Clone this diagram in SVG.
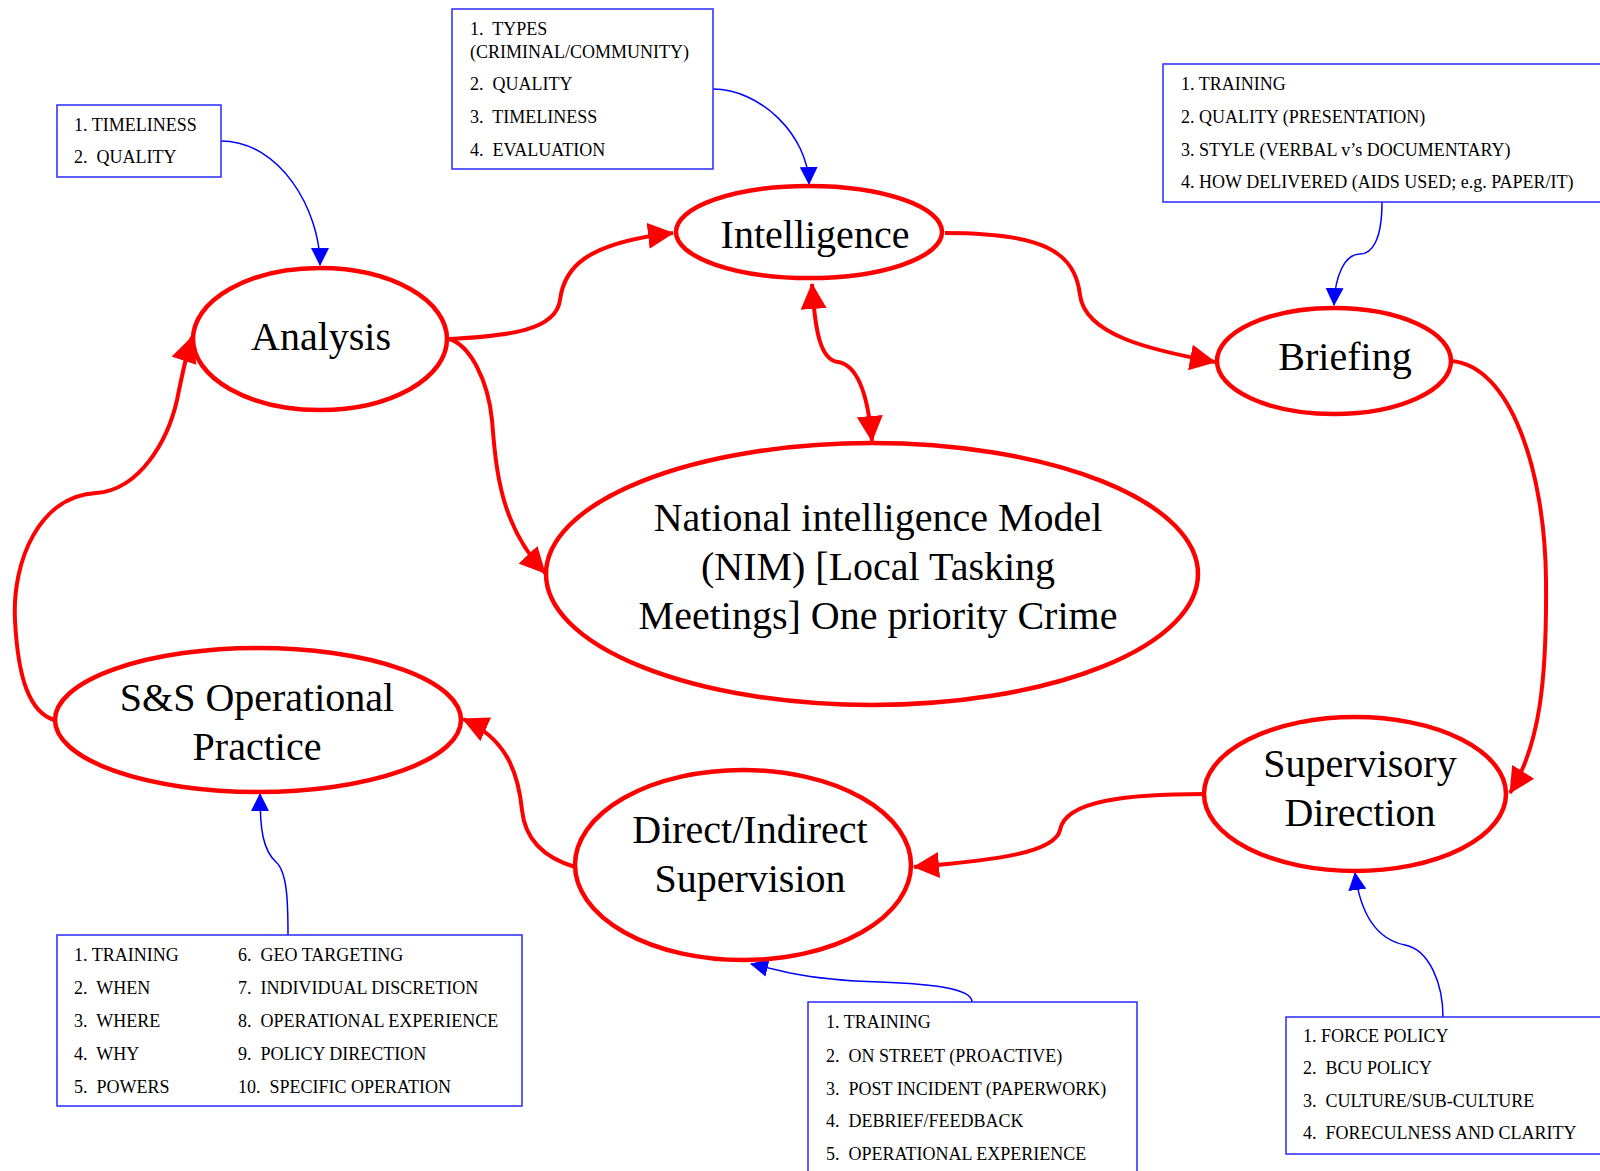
<svg xmlns="http://www.w3.org/2000/svg" width="1600" height="1171" viewBox="0 0 1600 1171">
<style>
.node{fill:#fff;stroke:#ff0000;stroke-width:4.5}
.big{font-family:"Liberation Serif","Times New Roman",serif;font-size:40px;fill:#000;text-anchor:middle}
.box{fill:#fff;stroke:#2a2aff;stroke-width:1.5}
.sm{font-family:"Liberation Serif","Times New Roman",serif;font-size:18px;fill:#000}
.red{fill:none;stroke:#ff0000;stroke-width:4}
.blue{fill:none;stroke:#0000ff;stroke-width:1.5}
</style>
<defs>
<marker id="ra" markerUnits="userSpaceOnUse" markerWidth="26" markerHeight="26" viewBox="0 0 26 26" refX="25" refY="13" orient="auto-start-reverse">
<path d="M0,0 L26,13 L0,26 z" fill="#ff0000"/>
</marker>
<marker id="ba" markerUnits="userSpaceOnUse" markerWidth="18" markerHeight="18" viewBox="0 0 18 18" refX="17" refY="9" orient="auto">
<path d="M0,0 L18,9 L0,18 z" fill="#0000ff"/>
</marker>
</defs>

<g id="connectors">
<path class="red" d="M449,339 C510,336 556,330 560,300 C564,268 585,243 673,233" marker-end="url(#ra)"/>
<path class="red" d="M945,233 C1040,233 1075,250 1080,295 C1085,335 1150,350 1215,362" marker-end="url(#ra)"/>
<path class="red" d="M1451,361 C1510,365 1545,470 1546,580 C1547,680 1540,745 1510,793" marker-end="url(#ra)"/>
<path class="red" d="M1204,794 C1130,794 1065,800 1060,830 C1055,852 1000,860 914,867" marker-end="url(#ra)"/>
<path class="red" d="M575,867 C545,858 525,840 522,810 C518,770 505,738 463,719" marker-end="url(#ra)"/>
<path class="red" d="M54,720 C30,712 18,680 15,620 C12,560 40,496 96,493 C140,490 168,440 177,400 C182,375 186,355 192,337" marker-end="url(#ra)"/>
<path class="red" d="M449,339 C470,345 488,380 492,420 C496,470 500,525 545,573" marker-end="url(#ra)"/>
<path class="red" d="M812,284 C815,330 820,360 838,362 C858,365 868,395 872,441" marker-start="url(#ra)" marker-end="url(#ra)"/>
<path class="blue" d="M221,141 C280,141 320,210 320,265" marker-end="url(#ba)"/>
<path class="blue" d="M713,89 C760,89 808,135 809,184" marker-end="url(#ba)"/>
<path class="blue" d="M1382,202 C1382,240 1372,254 1360,254 C1345,254 1335,275 1334,305" marker-end="url(#ba)"/>
<path class="blue" d="M288,935 C288,900 287,872 276,862 C263,850 260,830 260,794" marker-end="url(#ba)"/>
<path class="blue" d="M972,1002 C972,988 930,984 880,982 C840,981 815,978 790,973 L751,964" marker-end="url(#ba)"/>
<path class="blue" d="M1443,1017 C1443,985 1430,950 1405,945 C1385,941 1362,925 1355,873" marker-end="url(#ba)"/>
</g>

<g id="analysis">
<ellipse class="node" cx="320" cy="339" rx="127" ry="71"/>
<text class="big" x="321" y="350">Analysis</text>
</g>
<g id="intelligence">
<ellipse class="node" cx="809" cy="232" rx="133" ry="46"/>
<text class="big" x="815" y="248">Intelligence</text>
</g>
<g id="briefing">
<ellipse class="node" cx="1334" cy="361" rx="117" ry="53"/>
<text class="big" x="1345" y="370">Briefing</text>
</g>
<g id="nim">
<ellipse class="node" cx="872" cy="574" rx="326" ry="131"/>
<text class="big" x="878" y="531">National intelligence Model</text>
<text class="big" x="878" y="580">(NIM) [Local Tasking</text>
<text class="big" x="878" y="629">Meetings] One priority Crime</text>
</g>
<g id="supervisory">
<ellipse class="node" cx="1355" cy="794" rx="151" ry="77"/>
<text class="big" x="1360" y="777">Supervisory</text>
<text class="big" x="1360" y="826">Direction</text>
</g>
<g id="direct">
<ellipse class="node" cx="743" cy="865" rx="168" ry="95"/>
<text class="big" x="750" y="843">Direct/Indirect</text>
<text class="big" x="750" y="892">Supervision</text>
</g>
<g id="ss">
<ellipse class="node" cx="258" cy="720" rx="203" ry="72"/>
<text class="big" x="257" y="711">S&amp;S Operational</text>
<text class="big" x="257" y="760">Practice</text>
</g>

<g id="box-analysis">
<rect class="box" x="57" y="105" width="164" height="72"/>
<text class="sm" x="74" y="131">1. TIMELINESS</text>
<text class="sm" x="74" y="163">2.&#160; QUALITY</text>
</g>
<g id="box-intelligence">
<rect class="box" x="452" y="9" width="261" height="160"/>
<text class="sm" x="470" y="35">1.&#160; TYPES</text>
<text class="sm" x="470" y="58">(CRIMINAL/COMMUNITY)</text>
<text class="sm" x="470" y="90">2.&#160; QUALITY</text>
<text class="sm" x="470" y="123">3.&#160; TIMELINESS</text>
<text class="sm" x="470" y="156">4.&#160; EVALUATION</text>
</g>
<g id="box-briefing">
<rect class="box" x="1163" y="64" width="445" height="138"/>
<text class="sm" x="1181" y="90">1. TRAINING</text>
<text class="sm" x="1181" y="123">2. QUALITY (PRESENTATION)</text>
<text class="sm" x="1181" y="156">3. STYLE (VERBAL v’s DOCUMENTARY)</text>
<text class="sm" x="1181" y="188">4. HOW DELIVERED (AIDS USED; e.g. PAPER/IT)</text>
</g>
<g id="box-ss">
<rect class="box" x="57" y="935" width="465" height="171"/>
<text class="sm" x="74" y="961">1. TRAINING</text>
<text class="sm" x="74" y="994">2.&#160; WHEN</text>
<text class="sm" x="74" y="1027">3.&#160; WHERE</text>
<text class="sm" x="74" y="1060">4.&#160; WHY</text>
<text class="sm" x="74" y="1093">5.&#160; POWERS</text>
<text class="sm" x="238" y="961">6.&#160; GEO TARGETING</text>
<text class="sm" x="238" y="994">7.&#160; INDIVIDUAL DISCRETION</text>
<text class="sm" x="238" y="1027">8.&#160; OPERATIONAL EXPERIENCE</text>
<text class="sm" x="238" y="1060">9.&#160; POLICY DIRECTION</text>
<text class="sm" x="238" y="1093">10.&#160; SPECIFIC OPERATION</text>
</g>
<g id="box-direct">
<rect class="box" x="808" y="1002" width="329" height="180"/>
<text class="sm" x="826" y="1028">1. TRAINING</text>
<text class="sm" x="826" y="1062">2.&#160; ON STREET (PROACTIVE)</text>
<text class="sm" x="826" y="1095">3.&#160; POST INCIDENT (PAPERWORK)</text>
<text class="sm" x="826" y="1127">4.&#160; DEBRIEF/FEEDBACK</text>
<text class="sm" x="826" y="1160">5.&#160; OPERATIONAL EXPERIENCE</text>
</g>
<g id="box-supervisory">
<rect class="box" x="1286" y="1017" width="330" height="137"/>
<text class="sm" x="1303" y="1042">1. FORCE POLICY</text>
<text class="sm" x="1303" y="1074">2.&#160; BCU POLICY</text>
<text class="sm" x="1303" y="1107">3.&#160; CULTURE/SUB-CULTURE</text>
<text class="sm" x="1303" y="1139">4.&#160; FORECULNESS AND CLARITY</text>
</g>
</svg>
